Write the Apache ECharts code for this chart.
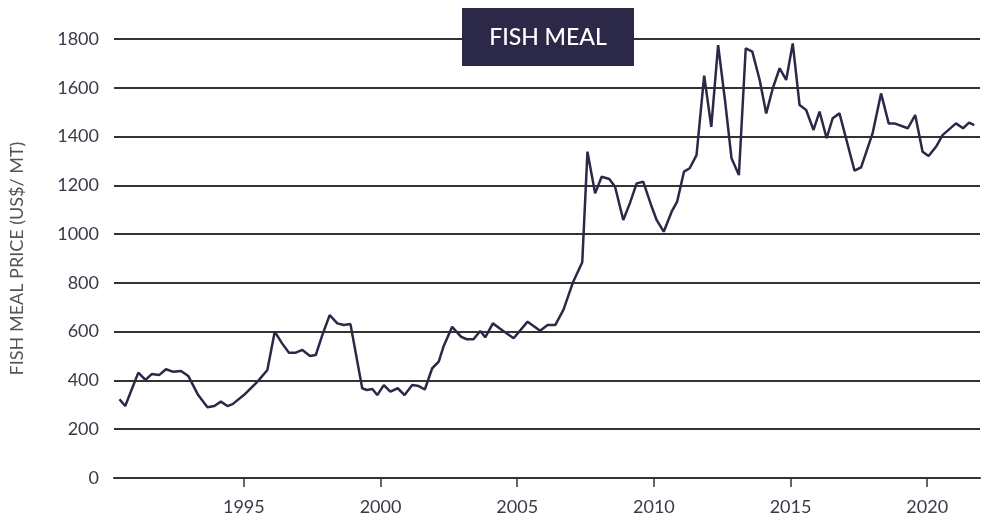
<!DOCTYPE html>
<html>
<head>
<meta charset="utf-8">
<script src="https://cdn.jsdelivr.net/npm/echarts@6/dist/echarts.min.js"></script>
<style>
html,body{margin:0;padding:0;background:#fff;}
#chart{width:985px;height:526px;}
</style>
</head>
<body>
<div id="chart"></div>
<script>
const years = [1990.45,1990.66,1991.14,1991.40,1991.63,1991.90,1992.15,1992.40,1992.70,1992.97,
1993.33,1993.67,1993.92,1994.16,1994.40,1994.59,1995.00,1995.50,1995.86,1996.13,
1996.40,1996.65,1996.90,1997.14,1997.42,1997.63,1997.87,1998.14,1998.42,1998.66,
1998.90,1999.33,1999.50,1999.70,1999.88,2000.12,2000.36,2000.63,2000.88,2001.16,
2001.40,2001.62,2001.89,2002.13,2002.30,2002.62,2002.95,2003.16,2003.40,2003.65,
2003.83,2004.11,2004.44,2004.87,2005.38,2005.84,2006.11,2006.39,2006.69,2007.05,
2007.38,2007.57,2007.85,2008.09,2008.37,2008.58,2008.88,2009.12,2009.37,2009.61,
2009.92,2010.10,2010.36,2010.65,2010.85,2011.10,2011.31,2011.56,2011.84,2012.10,
2012.35,2012.60,2012.84,2013.11,2013.36,2013.60,2013.87,2014.11,2014.35,2014.60,
2014.84,2015.08,2015.33,2015.57,2015.84,2016.06,2016.32,2016.54,2016.79,2017.34,
2017.58,2018.00,2018.31,2018.59,2018.80,2019.29,2019.56,2019.83,2020.05,2020.32,
2020.56,2021.05,2021.31,2021.53,2021.72];
const prices = [323,295,432,402,426,422,446,436,439,418,
340,290,295,313,295,303,340,395,443,600,
552,514,514,525,500,504,586,668,634,627,
631,368,361,365,340,381,354,368,340,381,
377,363,450,477,538,620,579,569,569,603,
577,634,607,573,641,604,627,627,689,805,
885,1338,1167,1235,1226,1194,1058,1126,1208,1215,
1112,1058,1010,1092,1133,1256,1270,1324,1650,1440,
1775,1550,1311,1242,1762,1748,1632,1495,1598,1680,
1632,1782,1529,1509,1427,1502,1393,1475,1495,1260,
1274,1413,1577,1454,1454,1434,1488,1338,1320,1358,
1406,1454,1434,1457,1447];
const yearTicks = [1995,2000,2005,2010,2015,2020];
const titleText = 'FISH MEAL';
const yAxisName = 'FISH MEAL PRICE (US$/ MT)';

const chart = echarts.init(document.getElementById('chart'), null, {renderer:'canvas'});
const font = 'Lato, "Open Sans", sans-serif';
chart.setOption({
  animation:false,
  backgroundColor:'#ffffff',
  grid:{left:113,right:5,top:39,bottom:48,containLabel:false},
  xAxis:{
    type:'value', min:1990.25, max:2021.93,
    axisLine:{show:true,lineStyle:{color:'#333333',width:2}},
    axisTick:{show:true,customValues:yearTicks,length:9,lineStyle:{color:'#333333',width:1.5}},
    axisLabel:{customValues:yearTicks,color:'#3a3a48',fontSize:18,fontFamily:font,margin:20,
      formatter:v=>String(Math.round(v))},
    splitLine:{show:false}
  },
  yAxis:{
    type:'value', min:0, max:1800, interval:200,
    name:yAxisName, nameLocation:'middle', nameGap:88,
    nameTextStyle:{color:'#555555',fontSize:18,fontFamily:font},
    axisLine:{show:false}, axisTick:{show:false},
    axisLabel:{color:'#3a3a48',fontSize:18,fontFamily:font,margin:15,
      formatter:v=>String(Math.round(v))},
    splitLine:{show:true,lineStyle:{color:'#333333',width:2}}
  },
  series:[{
    type:'line', data:years.map((y,i)=>[y,prices[i]]),
    showSymbol:false, symbol:'none',
    lineStyle:{color:'#2b2848',width:2.5}, z:5
  }],
  graphic:[{
    type:'group', left:462, top:8, z:100, zlevel:1,
    children:[
      {type:'rect',z:100,zlevel:1,shape:{x:0,y:0,width:172,height:58},style:{fill:'#2b2848'}},
      {type:'text',z:101,zlevel:1,x:86,y:30,style:{text:titleText,fill:'#ffffff',font:'500 23px '+font,align:'center',verticalAlign:'middle'}}
    ]
  }]
});
</script>
</body>
</html>
